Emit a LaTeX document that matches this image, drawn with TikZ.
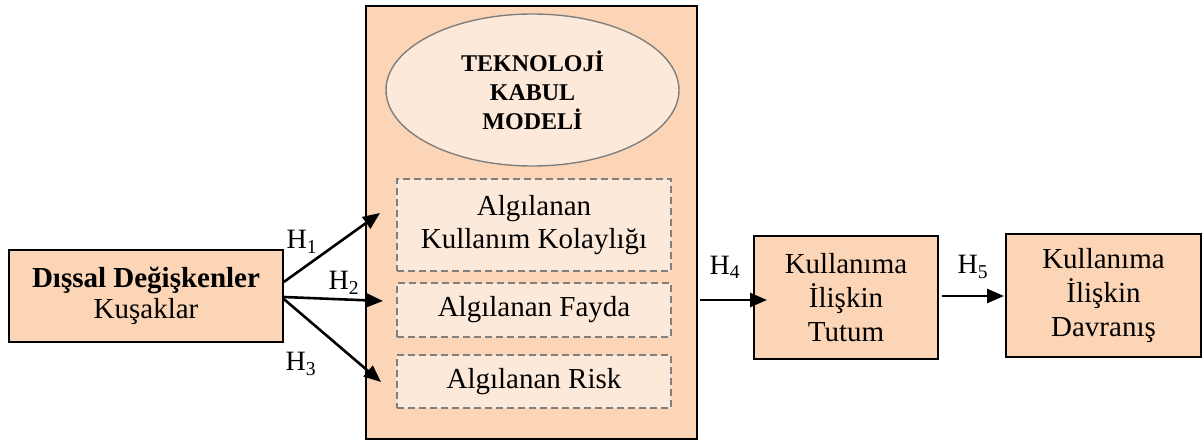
\documentclass[tikz,border=0pt]{standalone}
\usepackage{fontspec}
\setmainfont{Liberation Serif}
\usetikzlibrary{arrows.meta,shapes.geometric}
\definecolor{peach}{HTML}{FBD5B5}
\definecolor{lightpeach}{HTML}{FDE9D9}
\definecolor{edgegray}{HTML}{7F7F7F}
\tikzset{
  mainbox/.style={draw=black, line width=1.6pt, fill=peach, align=center, inner sep=0pt, font=\fontsize{29}{34}\selectfont},
  dashbox/.style={draw=edgegray, dash pattern=on 7pt off 4pt, line width=1.5pt, fill=lightpeach, align=center, inner sep=0pt, font=\fontsize{29}{33}\selectfont},
  arr/.style={line width=2.6pt, -{Triangle[length=17pt,width=14pt]}},
  hlabel/.style={inner sep=0pt, font=\fontsize{28}{30}\selectfont}
}
\begin{document}
\begin{tikzpicture}[x=1pt,y=-1pt]
\useasboundingbox (0,0) rectangle (1203,441);
% big model box
\node[mainbox, minimum width=331pt, minimum height=433pt] (M) at (531.5,222.5) {};
\node[draw=edgegray, line width=1.4pt, fill=lightpeach, ellipse, minimum width=293pt, minimum height=152pt, inner sep=0pt, align=center,
      font=\fontsize{24}{29}\selectfont\bfseries] (E) at (532.5,90) {TEKNOLOJİ\\KABUL\\MODELİ};
\node[dashbox, minimum width=274pt, minimum height=92pt] (D1) at (534,225) {Algılanan\\Kullanım Kolaylığı};
\node[dashbox, minimum width=274pt, minimum height=54pt] (D2) at (534,310) {Algılanan Fayda};
\node[dashbox, minimum width=274pt, minimum height=53pt] (D3) at (534,381.5) {Algılanan Risk};
% left box
\node[mainbox, minimum width=274pt, minimum height=92pt, font=\fontsize{29}{31}\selectfont] (L) at (146,296) {\textbf{Dışsal Değişkenler}\\Kuşaklar};
% right boxes
\node[mainbox, minimum width=184pt, minimum height=123pt] (T) at (846,297.5) {Kullanıma\\İlişkin\\Tutum};
\node[mainbox, minimum width=195pt, minimum height=123pt] (B) at (1103.5,295.5) {Kullanıma\\İlişkin\\Davranış};
% arrow end coordinates
\coordinate (e1) at (380,213);
\coordinate (e2) at (383,301);
\coordinate (e3) at (381,382);
\coordinate (s4) at (700,300);
\coordinate (e4) at (767,300);
\coordinate (s5) at (942,296);
\coordinate (e5) at (1004,296);
\draw[arr] ([yshift=14pt]L.east) -- (e1);
\draw[arr] ([yshift=-1pt]L.east) -- (e2);
\draw[arr] ([yshift=-3pt]L.east) -- (e3);
\draw[arr] (s4) -- (e4);
\draw[arr] (s5) -- (e5);
% labels
\node[hlabel] (h1) at (302,242) {H\textsubscript{1}};
\node[hlabel] (h2) at (344,283) {H\textsubscript{2}};
\node[hlabel] (h3) at (301,364) {H\textsubscript{3}};
\node[hlabel] (h4) at (725,267) {H\textsubscript{4}};
\node[hlabel] (h5) at (973,267) {H\textsubscript{5}};
\end{tikzpicture}
\end{document}
